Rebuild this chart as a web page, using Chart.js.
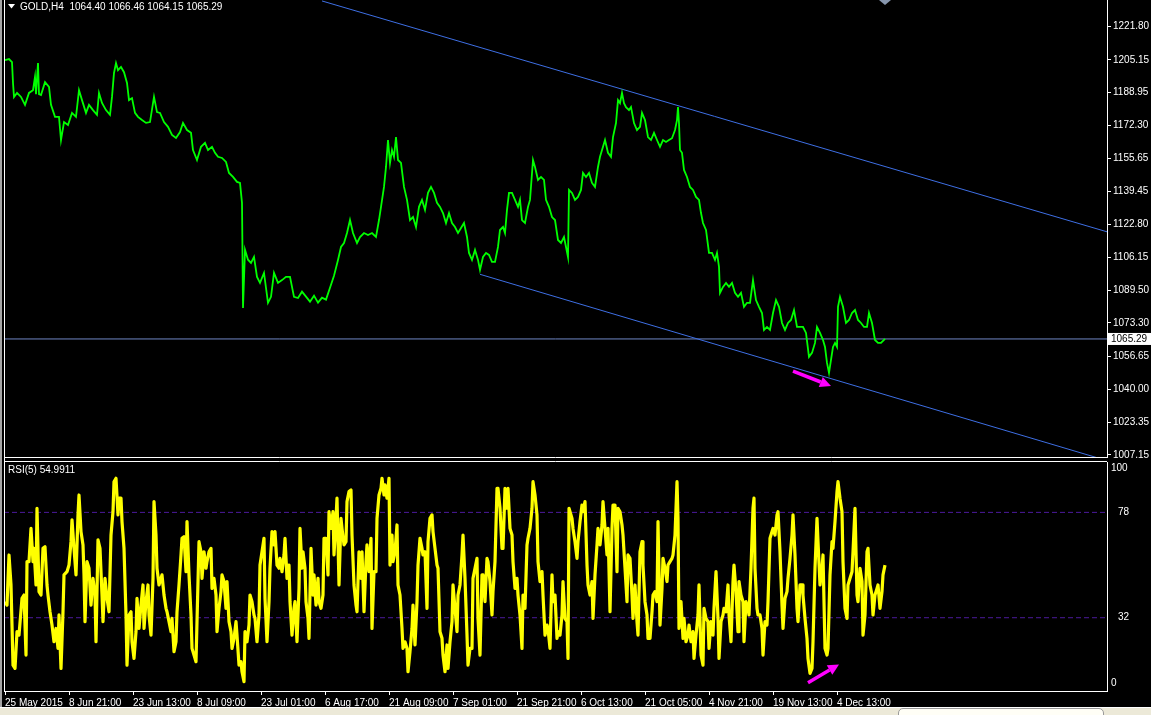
<!DOCTYPE html>
<html lang="en">
<head>
<meta charset="UTF-8">
<title>GOLD,H4</title>
<script src="https://cdn.jsdelivr.net/npm/chart.js"></script>
<style>
  html, body { margin: 0; padding: 0; background: #000; overflow: hidden; }
  body { width: 1151px; height: 715px; position: relative; }
  canvas { position: absolute; left: 0; }
  #priceChart { top: 0; }
  #rsiChart { top: 460px; }
  .edge { position: absolute; left: 0; top: 0; width: 2px; height: 707px; background: #a4a4a4; }
  .status { position: absolute; left: 0; top: 707px; width: 1151px; height: 8px; background: #ece9d8; border-top: 1px solid #fff; }
  .status .tip { position: absolute; left: 898px; top: 0; width: 204px; height: 12px; background: #fffef6; border: 1px solid #9a9a9a; border-radius: 5px; }
</style>
</head>
<body>
<canvas id="priceChart" width="1151" height="460"></canvas>
<canvas id="rsiChart" width="1151" height="255"></canvas>
<div class="edge"></div>
<div class="status"><div class="tip"></div></div>

<script>
// bars are counted from the first H4 bar on screen (25 May 2015)
const priceBars = [
  0,4,7,8,9,12,16,20,24,28,
  30,31,33,34,36,40,44,46,50,54,
  56,59,63,67,71,74,77,81,84,88,
  92,94,97,101,105,107,109,111,113,116,
  119,122,124,127,130,133,137,141,145,149,
  152,155,159,163,167,171,175,178,182,186,
  188,192,196,200,203,207,210,213,217,221,
  224,228,232,235,237,238,240,243,246,249,
  252,255,259,263,266,269,273,277,281,285,
  289,293,297,301,305,309,313,317,321,325,
  329,333,336,339,342,345,348,352,355,359,
  363,367,371,374,376,379,381,383,385,387,
  389,391,393,396,399,402,405,408,411,414,
  417,420,423,426,429,432,435,438,441,444,
  447,450,453,456,459,462,464,467,470,473,
  475,478,481,484,487,490,493,495,498,500,
  502,504,507,510,513,515,517,520,523,525,
  528,530,533,536,539,541,544,547,550,553,
  556,559,561,563,564,567,570,573,576,578,
  581,584,587,590,593,595,598,600,603,606,
  608,611,613,615,617,619,621,624,626,629,
  632,635,637,640,643,646,649,652,655,658,
  661,664,667,670,672,673,674,675,677,679,
  682,685,688,691,694,696,698,701,704,707,
  710,712,714,715,718,721,724,727,730,733,
  736,739,742,745,748,751,754,757,759,762,
  765,768,771,774,777,780,783,786,789,792,
  795,798,801,804,807,810,812,815,818,820,
  822,824,826,828,830,832,833,835,838,841,
  844,847,850,853,856,859,862,864,867,870,
  873,876,880
];
const priceClose = [
  1205.1,1205.6,1204.0,1193.6,1186.6,1188.6,1186.6,1182.6,1188.6,1190.0,
  1196.6,1188.0,1203.6,1188.0,1187.6,1194.0,1191.6,1182.6,1176.6,1176.6,
  1165.0,1174.0,1172.5,1178.6,1176.6,1190.0,1185.0,1178.6,1182.6,1180.0,
  1177.6,1188.6,1183.6,1180.0,1177.6,1186.6,1198.6,1203.6,1200.0,1201.6,
  1199.0,1193.6,1185.0,1186.0,1178.6,1176.6,1175.0,1173.6,1174.0,1186.6,
  1179.0,1178.6,1174.0,1171.6,1167.6,1166.0,1169.0,1173.6,1170.0,1168.6,
  1160.0,1155.0,1161.6,1163.6,1160.0,1161.6,1158.6,1156.6,1156.0,1154.0,
  1148.5,1146.5,1144.0,1143.5,1133.5,1080.8,1110.0,1105.0,1103.4,1106.4,
  1096.4,1093.4,1098.4,1083.4,1086.4,1098.4,1093.4,1094.8,1096.4,1096.4,
  1086.4,1085.8,1089.0,1086.5,1084.0,1087.0,1083.5,1086.0,1085.0,1091.0,
  1097.0,1104.9,1111.4,1113.4,1118.4,1124.9,1118.4,1113.4,1116.4,1118.4,
  1117.4,1118.4,1116.4,1124.9,1131.5,1141.5,1151.5,1165.0,1153.5,1160.0,
  1156.6,1166.5,1155.0,1153.5,1141.5,1135.0,1124.9,1126.4,1121.4,1131.5,
  1135.0,1130.0,1138.5,1141.5,1138.5,1133.5,1131.5,1128.4,1123.4,1128.4,
  1123.4,1121.4,1118.4,1120.9,1123.4,1116.4,1108.4,1104.9,1109.9,1104.9,
  1099.9,1106.4,1108.4,1107.4,1103.9,1103.9,1111.4,1119.9,1121.4,1118.4,
  1130.0,1138.5,1138.5,1135.0,1131.5,1135.0,1124.9,1123.4,1131.5,1135.0,
  1155.0,1151.5,1145.0,1146.5,1145.0,1135.0,1131.5,1126.4,1124.9,1114.9,
  1113.4,1116.4,1111.4,1106.4,1140.0,1138.5,1135.0,1136.5,1140.0,1148.5,
  1146.5,1148.5,1143.5,1141.5,1151.5,1156.6,1161.6,1165.0,1158.6,1156.6,
  1166.5,1173.5,1185.0,1183.5,1188.6,1183.5,1181.5,1180.0,1181.5,1173.5,
  1170.0,1171.6,1178.6,1175.0,1166.5,1165.0,1168.6,1165.0,1161.6,1165.0,
  1164.0,1165.0,1165.9,1170.0,1175.0,1181.5,1173.5,1160.0,1158.6,1150.0,
  1146.5,1141.5,1140.0,1136.5,1135.0,1128.4,1123.4,1119.9,1108.4,1108.4,
  1104.9,1108.4,1101.4,1088.4,1091.4,1093.4,1091.4,1093.4,1088.4,1086.4,
  1088.4,1081.4,1083.4,1083.4,1094.8,1084.8,1081.4,1078.3,1069.8,1071.3,
  1069.8,1078.3,1084.8,1081.4,1073.3,1069.8,1073.3,1074.8,1079.8,1071.3,
  1071.3,1071.3,1068.3,1056.3,1058.3,1063.3,1071.3,1068.3,1064.8,1061.3,
  1053.3,1048.3,1054.8,1061.3,1063.3,1061.3,1081.4,1086.4,1081.4,1073.3,
  1074.8,1078.3,1079.8,1074.8,1073.3,1071.3,1071.3,1078.3,1073.3,1064.8,
  1063.3,1063.3,1065.29
];

const rsiBars = [
  0,2,4,6,8,10,12,14,17,19,
  21,22,24,26,28,29,31,32,34,36,
  38,40,42,43,45,47,49,51,53,54,
  56,58,59,62,64,66,67,69,71,73,
  74,76,78,79,80,82,84,86,88,90,
  91,93,95,97,98,100,102,104,106,108,
  109,111,113,114,116,117,119,121,122,124,
  126,127,129,131,132,134,136,138,139,141,
  143,144,146,148,149,151,152,154,156,157,
  159,161,162,164,166,167,169,171,172,174,
  176,177,179,181,182,184,186,187,189,191,
  192,194,196,197,199,201,202,204,206,207,
  209,211,212,214,216,217,219,221,222,224,
  226,227,229,231,232,234,236,237,239,240,
  242,244,245,247,249,250,252,254,255,257,
  259,260,262,264,265,267,269,270,272,274,
  275,277,279,280,282,284,285,287,289,290,
  292,294,295,297,298,300,301,303,304,306,
  308,309,311,313,314,316,318,319,321,323,
  324,326,328,329,331,332,334,336,337,339,
  341,342,344,346,347,349,351,352,354,356,
  357,359,361,362,364,366,367,369,371,372,
  374,376,377,379,380,382,384,385,387,388,
  390,392,393,395,397,398,400,402,403,405,
  407,408,410,412,413,415,417,418,420,422,
  423,425,427,428,430,432,433,435,437,438,
  440,442,443,445,447,448,450,452,453,455,
  457,458,460,462,463,465,467,468,470,472,
  473,475,477,478,480,482,483,485,487,488,
  490,492,493,495,497,498,500,502,503,505,
  507,508,510,512,513,515,517,518,520,522,
  523,525,527,528,530,532,533,535,537,538,
  540,542,543,545,547,548,550,552,553,555,
  557,558,560,562,563,564,567,568,570,572,
  573,575,577,578,580,582,583,585,587,588,
  590,592,593,595,597,598,600,602,603,605,
  607,608,610,612,613,615,617,618,620,622,
  623,625,627,628,630,632,633,635,637,638,
  640,642,643,645,647,648,650,652,653,655,
  657,658,660,662,663,665,667,668,670,672,
  673,674,676,678,679,681,683,684,686,688,
  689,691,693,694,696,698,699,701,703,704,
  706,708,709,711,713,714,716,718,719,721,
  723,724,726,728,729,731,733,734,736,738,
  739,741,743,744,746,748,749,750,752,753,
  755,757,758,760,762,763,765,767,768,770,
  772,773,775,777,778,780,782,783,785,787,
  788,790,792,793,795,797,798,800,802,803,
  805,807,808,810,812,813,815,817,818,820,
  822,823,825,827,828,830,832,833,835,837,
  838,840,842,843,845,847,848,850,852,853,
  855,857,858,860,862,863,865,867,868,870,
  872,873,875,877,878,880
];
const rsiValues = [
  39,37.5,59.4,46.3,11.3,9.9,25.9,24.4,40.5,41.9,
  15.7,56.5,56.5,71,56.5,62.3,46.3,79.8,43.4,41.9,
  62.3,63,46.3,41.9,34.6,28.8,21.5,27.3,18.6,33.2,
  9.9,34.6,50.7,52.1,55,65.2,74.7,62.3,50.7,76.9,
  85.6,69.6,63.8,50.7,30.3,56.5,53.6,37.5,49.2,41.9,
  21.5,66,62.3,41.9,30.3,49.2,40.5,34.6,68.1,78.3,
  91.4,92.9,76.9,84.2,84.2,74,62.3,33.2,11.3,33.2,
  34.6,21.5,14.2,25.9,40.5,27.3,37.5,46.3,27.3,39,
  46.3,33.2,24.4,49.2,82.7,68.1,53.6,46.3,49.2,50.7,
  41.9,36.1,34.6,30.3,25.9,31.7,17.2,21.5,34.6,46.3,
  59.4,66.7,67.4,52.1,74,50.7,33.2,18.6,15.7,12.8,
  30.3,65.2,60.8,49.2,60.8,53.6,56.5,60.8,62.3,44.8,
  49.2,41.9,25.9,36.1,43.4,50.7,47.8,36.1,47.8,30.3,
  25.9,18.6,23,30.3,24.4,11.3,12.8,8.4,4.1,25.9,
  21.5,28.8,41.9,39,33.2,31.7,21.5,33.2,55,60.8,
  66.7,40.5,21.5,39,53.6,69.6,63.8,69.6,55,53.6,
  57.9,52.1,59.4,66.7,49.2,55,39,24.4,36.1,39,
  21.5,44.8,71,53.6,60.8,53.6,39,31.7,23,62.3,
  41.9,50.7,37.5,49.2,39,36.1,41.9,66.7,66.7,50.7,
  78.3,71,78.3,59.4,75.4,84.2,46.3,75.4,71,63.8,
  65.2,82.7,87.1,87.8,68.1,46.3,37.5,34.6,60.8,49.2,
  60.8,34.6,56.5,63.8,52.1,66.7,27.3,52.1,52.1,75.4,
  85.6,88.5,92.9,85.6,90,84.2,92.9,55,68.1,56.5,
  60.8,72.5,46.3,41.9,27.3,18.6,21.5,18.6,8.4,17.2,
  27.3,37.5,20.1,39,55,66.7,62.3,59.4,60.8,36.1,
  65.2,75.4,76.9,69.6,62.3,55,53.6,25.9,23,15.7,
  8.4,20.1,9.9,21.5,30.3,46.3,36.1,25.9,41.9,46.3,
  59.4,68.1,49.2,24.4,11.3,18.6,18.6,49.2,53.6,57.9,
  31.7,15.7,50.7,50.7,39,57.9,56.5,47.8,33.2,43.4,
  56.5,88.5,88.5,79.8,62.3,62.3,88.5,79.8,88.5,71,
  68.1,56.5,44.8,49.2,41.9,33.2,18.6,41.9,36.1,63.8,
  66.7,71,79.8,91.4,85.6,76.9,56.5,47.8,52.1,41.9,
  24.4,28.8,27.3,18.6,50.7,39,41.9,23,25.9,24.4,
  33.2,47.8,31.7,30.3,14.2,79.8,75.4,71,65.2,57.9,
  65.2,74,81.2,78.3,82.7,55,46.3,41.9,47.8,31.7,
  50.7,63.8,71,63.8,72.5,82.7,71,59.4,71,34.6,
  71,81.2,81.2,52.1,79.8,78.3,72.5,68.1,53.6,39,
  59.4,57.9,41.9,31.7,46.3,30.3,24.4,60.8,65.2,55,
  39,33.2,23,23,34.6,41.9,43.4,39,74,28.8,
  44.8,57.9,53.6,47.8,55,56.5,57.9,59.4,68.1,91.4,
  75.4,27.3,39,23,31.7,21.5,24.4,28.8,21.5,25.9,
  14.2,24.4,33.2,46.3,15.7,11.3,36.1,31.7,30.3,18.6,
  30.3,24.4,36.1,52.1,31.7,14.2,30.3,33.2,36.1,34.6,
  46.3,33.2,21.5,47.8,55,43.4,25.9,47.8,41.9,39,
  21.5,39,36.1,33.2,53.6,79.8,84.2,53.6,36.1,33.2,
  33.2,27.3,15.7,30.3,28.8,39,66.7,69.6,71,68.1,
  76.9,78.3,60.8,37.5,27.3,40.5,43.4,49.2,57.9,68.1,
  76.9,59.4,36.1,30.3,46.3,46.3,41.9,31.7,23,14.2,
  7.7,9.9,21.5,53.6,75.4,65.2,46.3,53.6,59.4,18.6,
  15.7,18.6,50.7,65.2,62.3,74,87.1,91.4,84.2,78.3,
  56.5,36.1,31.7,46.3,49.2,52.1,60.8,79.8,41.9,39,
  53.6,47.8,24.4,33.2,60.8,62.3,46.3,41.9,33.2,41.9,
  44.8,46.3,36.1,43.4,50.7,54.99
];

// MT4 style price scale labels
const priceTicks = [1221.80, 1205.15, 1188.95, 1172.30, 1155.65, 1139.45, 1122.80,
                    1106.15, 1089.50, 1073.30, 1056.65, 1040.00, 1023.35, 1007.15];
const rsiLevels = [78, 32];
const dateBars = [0, 64, 128, 192, 256, 320, 384, 448, 512, 576, 640, 704, 768, 832];
const dateLabels = ['25 May 2015', '8 Jun 21:00', '23 Jun 13:00', '8 Jul 09:00', '23 Jul 01:00',
                    '6 Aug 17:00', '21 Aug 09:00', '7 Sep 01:00', '21 Sep 21:00', '6 Oct 13:00',
                    '21 Oct 05:00', '4 Nov 21:00', '19 Nov 13:00', '4 Dec 13:00'];

// drawn objects, in (bar, value)
const upperTrend = [[317, 1234.7], [1102, 1119.0]];
const lowerTrend = [[475, 1097.7], [1102, 1004.3]];
const lastPrice = 1065.29;
const priceArrow = [[788, 1049.2], [826, 1041.7]];
const rsiArrow = [[803, 3.6], [834, 11.6]];

const FONT = '"Liberation Sans", Arial, sans-serif';
const X_MIN = -1, X_MAX = 1102;

function pts(xs, ys) { return xs.map((x, i) => ({ x: x, y: ys[i] })); }
function seg(p) { return p.map(d => ({ x: d[0], y: d[1] })); }
// keep the plot area flush with the panel edges (no room reserved for end labels)
function noPad(s) { s.paddingTop = 0; s.paddingBottom = 0; }

function drawArrow(ctx, x1, y1, x2, y2) {
  const a = Math.atan2(y2 - y1, x2 - x1), hl = 11, hw = 5.5;
  const bx = x2 - hl * Math.cos(a), by = y2 - hl * Math.sin(a);
  ctx.save();
  ctx.strokeStyle = '#ff00ff'; ctx.fillStyle = '#ff00ff'; ctx.lineWidth = 3.5;
  ctx.beginPath(); ctx.moveTo(x1, y1); ctx.lineTo(bx, by); ctx.stroke();
  ctx.beginPath();
  ctx.moveTo(x2, y2);
  ctx.lineTo(bx - hw * Math.sin(a), by + hw * Math.cos(a));
  ctx.lineTo(bx + hw * Math.sin(a), by - hw * Math.cos(a));
  ctx.closePath(); ctx.fill();
  ctx.restore();
}

const lineBase = { pointRadius: 0, tension: 0, fill: false };

// ---------- price window ----------
const pricePlugin = {
  id: 'priceExtras',
  afterDraw(chart) {
    const ctx = chart.ctx, a = chart.chartArea, xs = chart.scales.x, ys = chart.scales.y;
    ctx.save();
    ctx.strokeStyle = '#fff'; ctx.lineWidth = 1;
    ctx.beginPath();
    ctx.moveTo(a.left + 0.5, 0); ctx.lineTo(a.left + 0.5, chart.height);
    ctx.moveTo(a.left, a.bottom + 0.5); ctx.lineTo(a.right, a.bottom + 0.5);
    ctx.stroke();

    // header
    ctx.fillStyle = '#fff';
    ctx.beginPath(); ctx.moveTo(8, 4); ctx.lineTo(15, 4); ctx.lineTo(11.5, 8.5); ctx.closePath(); ctx.fill();
    ctx.font = '10px ' + FONT; ctx.textBaseline = 'middle'; ctx.textAlign = 'left';
    ctx.fillText('GOLD,H4  1064.40 1066.46 1064.15 1065.29', 20, 7);

    // shift marker
    ctx.fillStyle = '#8796ad';
    ctx.beginPath(); ctx.moveTo(879, 0); ctx.lineTo(891, 0); ctx.lineTo(885, 5); ctx.closePath(); ctx.fill();

    // last price box
    const py = ys.getPixelForValue(lastPrice);
    ctx.fillStyle = '#fff';
    ctx.fillRect(a.right + 1, py - 6, 43, 12);
    ctx.fillStyle = '#000';
    ctx.fillText(lastPrice.toFixed(2), a.right + 4, py + 0.5);

    drawArrow(ctx, xs.getPixelForValue(priceArrow[0][0]), ys.getPixelForValue(priceArrow[0][1]),
                   xs.getPixelForValue(priceArrow[1][0]), ys.getPixelForValue(priceArrow[1][1]));
    ctx.restore();
  }
};

new Chart(document.getElementById('priceChart'), {
  type: 'line',
  data: {
    datasets: [
      Object.assign({ data: pts(priceBars, priceClose), borderColor: '#00ff00', borderWidth: 1.8 }, lineBase),
      Object.assign({ data: seg(upperTrend), borderColor: '#3e6fe4', borderWidth: 1 }, lineBase),
      Object.assign({ data: seg(lowerTrend), borderColor: '#3e6fe4', borderWidth: 1 }, lineBase),
      Object.assign({ data: [{ x: X_MIN, y: lastPrice }, { x: X_MAX, y: lastPrice }], borderColor: '#6f86c4', borderWidth: 1 }, lineBase)
    ]
  },
  options: {
    responsive: false,
    animation: false,
    events: [],
    layout: { padding: { left: 4, top: 0, right: 0, bottom: 3 } },
    plugins: { legend: { display: false }, tooltip: { enabled: false } },
    scales: {
      x: { type: 'linear', min: X_MIN, max: X_MAX, display: false },
      y: {
        position: 'right', min: 1006.13, max: 1235.18,
        afterFit(s) { s.width = 44; noPad(s); },
        afterBuildTicks(s) { s.ticks = priceTicks.map(v => ({ value: v })); },
        ticks: { color: '#fff', font: { family: FONT, size: 10 }, padding: 2, autoSkip: false,
                 callback: v => Number(v).toFixed(2) },
        grid: { drawOnChartArea: false, color: '#fff', tickLength: 4 },
        border: { color: '#fff' }
      }
    }
  },
  plugins: [pricePlugin]
});

// ---------- RSI window ----------
const rsiPlugin = {
  id: 'rsiExtras',
  afterDraw(chart) {
    const ctx = chart.ctx, a = chart.chartArea, xs = chart.scales.x, ys = chart.scales.y;
    ctx.save();
    ctx.strokeStyle = '#fff'; ctx.lineWidth = 1;
    ctx.beginPath();
    ctx.moveTo(a.left + 0.5, 0); ctx.lineTo(a.left + 0.5, a.bottom);
    ctx.moveTo(a.left, a.top - 0.5); ctx.lineTo(a.right, a.top - 0.5);
    ctx.stroke();

    ctx.fillStyle = '#fff';
    ctx.font = '10px ' + FONT; ctx.textBaseline = 'middle'; ctx.textAlign = 'left';
    ctx.fillText('RSI(5) 54.9911', 8, a.top + 8);
    ctx.fillText('100', a.right + 4, a.top + 6);
    ctx.fillText('0', a.right + 4, a.bottom - 8);

    drawArrow(ctx, xs.getPixelForValue(rsiArrow[0][0]), ys.getPixelForValue(rsiArrow[0][1]),
                   xs.getPixelForValue(rsiArrow[1][0]), ys.getPixelForValue(rsiArrow[1][1]));
    ctx.restore();
  }
};

const levelSets = rsiLevels.map(v => Object.assign({
  data: [{ x: X_MIN, y: v }, { x: X_MAX, y: v }],
  borderColor: '#4c1a9c', borderWidth: 1, borderDash: [5, 3]
}, lineBase));

new Chart(document.getElementById('rsiChart'), {
  type: 'line',
  data: {
    datasets: [
      Object.assign({ data: pts(rsiBars, rsiValues), borderColor: '#ffff00', borderWidth: 3.2, borderJoinStyle: 'round' }, lineBase)
    ].concat(levelSets)
  },
  options: {
    responsive: false,
    animation: false,
    events: [],
    layout: { padding: { left: 4, top: 2, right: 0, bottom: 0 } },
    plugins: { legend: { display: false }, tooltip: { enabled: false } },
    scales: {
      x: {
        type: 'linear', min: X_MIN, max: X_MAX, position: 'bottom',
        afterFit(s) { s.height = 24; s.paddingLeft = 0; s.paddingRight = 0; },
        afterBuildTicks(s) { s.ticks = dateBars.map(v => ({ value: v })); },
        ticks: { color: '#fff', font: { family: FONT, size: 10 }, padding: 2, align: 'start',
                 autoSkip: false, maxRotation: 0, minRotation: 0,
                 callback: v => dateLabels[dateBars.indexOf(v)] },
        grid: { drawOnChartArea: false, color: '#fff', tickLength: 4 },
        border: { color: '#fff' }
      },
      y: {
        position: 'right', min: 0, max: 100,
        afterFit(s) { s.width = 44; noPad(s); },
        afterBuildTicks(s) { s.ticks = rsiLevels.map(v => ({ value: v })); },
        ticks: { color: '#fff', font: { family: FONT, size: 10 }, padding: 3, autoSkip: false },
        grid: { drawOnChartArea: false, display: false },
        border: { color: '#fff' }
      }
    }
  },
  plugins: [rsiPlugin]
});
</script>
</body>
</html>
